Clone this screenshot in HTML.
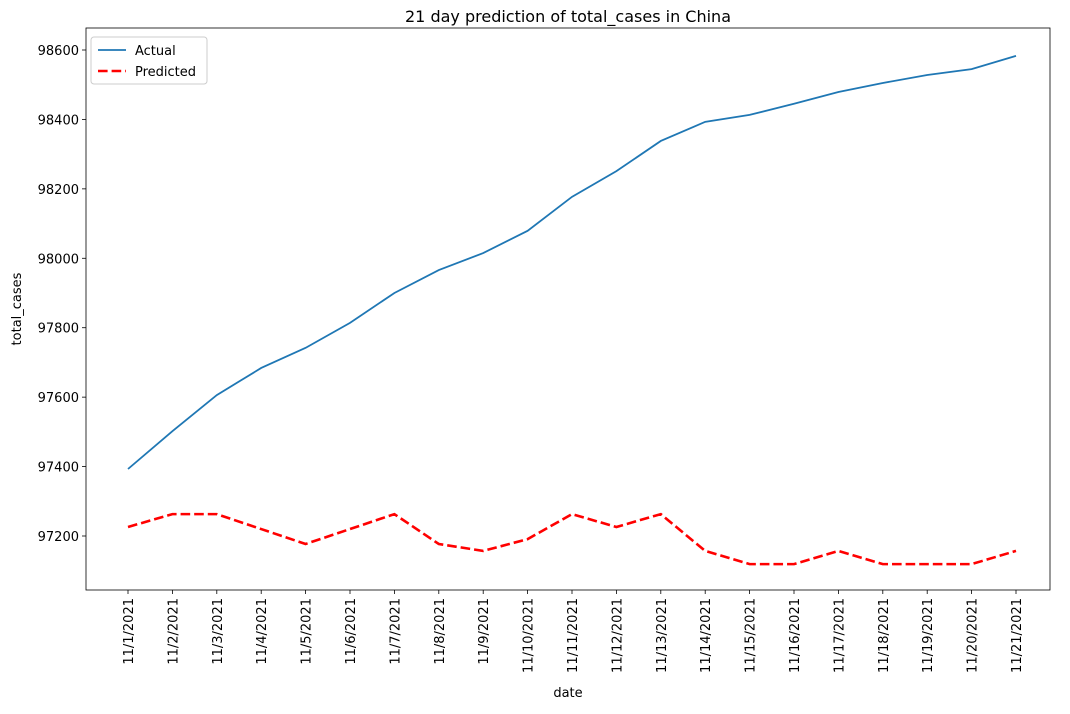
<!DOCTYPE html>
<html><head><meta charset="utf-8"><style>
body{margin:0;background:#fff;}
text{font-family:"DejaVu Sans","Liberation Sans",sans-serif;}
</style></head><body>
<svg id="chart" width="1070" height="709" xmlns="http://www.w3.org/2000/svg"></svg>
<script>
const categories=["11/1/2021","11/2/2021","11/3/2021","11/4/2021","11/5/2021","11/6/2021","11/7/2021","11/8/2021","11/9/2021","11/10/2021","11/11/2021","11/12/2021","11/13/2021","11/14/2021","11/15/2021","11/16/2021","11/17/2021","11/18/2021","11/19/2021","11/20/2021","11/21/2021"];
const actualValues=[97393,97502,97606,97684,97742,97814,97900,97966,98015,98079,98177,98251,98338,98393,98413,98445,98479,98505,98528,98545,98583];
const predictedValues=[97226,97263,97263,97220,97177,97220,97263,97177,97157,97191,97263,97226,97263,97157,97119,97119,97157,97119,97119,97119,97157];
const yTicks=[97200,97400,97600,97800,98000,98200,98400,98600];

const svg=document.getElementById('chart');
const NS='http://www.w3.org/2000/svg';
const L=86,R=1050,T=28,B=590;
function x(i){return 128+i*(1016-128)/20;}
function y(v){return 536-(v-97200)*(486/1400);}
function mk(tag,attrs,parent){const e=document.createElementNS(NS,tag);for(const k in attrs)e.setAttribute(k,attrs[k]);(parent||svg).appendChild(e);return e;}

const frame=mk('rect',{x:L,y:T,width:R-L,height:B-T,fill:'none',stroke:'#000','stroke-width':0.8});



const title=mk('text',{x:(L+R)/2,y:22,'text-anchor':'middle','font-size':16});
title.textContent='21 day prediction of total_cases in China';



yTicks.forEach(v=>{
  const yy=y(v);
  const tk=mk('line',{x1:L-4,x2:L,y1:yy,y2:yy,stroke:'#000','stroke-width':0.8});
  
  
  const t=mk('text',{x:L-7,y:yy+5,'text-anchor':'end','font-size':13});
  t.textContent=v;
  
  
});
categories.forEach((c,i)=>{
  const xx=x(i);
  const tk=mk('line',{x1:xx,x2:xx,y1:B,y2:B+4,stroke:'#000','stroke-width':0.8});
  
  
  const t=mk('text',{x:xx+5,y:B+8,'text-anchor':'end','font-size':13,transform:`rotate(-90 ${xx+5} ${B+8})`});
  t.textContent=c;
  
  
});
const xl=mk('text',{x:(L+R)/2,y:697,'text-anchor':'middle','font-size':13});
xl.textContent='date';


const yl=mk('text',{x:21,y:(T+B)/2,'text-anchor':'middle','font-size':13,transform:`rotate(-90 21 ${(T+B)/2})`});
yl.textContent='total_cases';



const a=mk('polyline',{points:actualValues.map((v,i)=>x(i)+','+y(v)).join(' '),fill:'none',stroke:'#1f77b4','stroke-width':1.8});


const p=mk('polyline',{points:predictedValues.map((v,i)=>x(i)+','+y(v)).join(' '),fill:'none',stroke:'#ff0000','stroke-width':2.6,'stroke-dasharray':'9.6 4'});



const lg=mk('g',{});


mk('rect',{x:91,y:37,width:116,height:47,rx:3,fill:'#fff',stroke:'#ccc','stroke-width':1},lg);
mk('line',{x1:98,x2:126,y1:50,y2:50,stroke:'#1f77b4','stroke-width':1.8},lg);
const t1=mk('text',{x:135,y:55,'font-size':13},lg);t1.textContent='Actual';


mk('line',{x1:98,x2:126,y1:71,y2:71,stroke:'#ff0000','stroke-width':2.6,'stroke-dasharray':'9.6 4'},lg);
const t2=mk('text',{x:135,y:76,'font-size':13},lg);t2.textContent='Predicted';


</script>
</body></html>
